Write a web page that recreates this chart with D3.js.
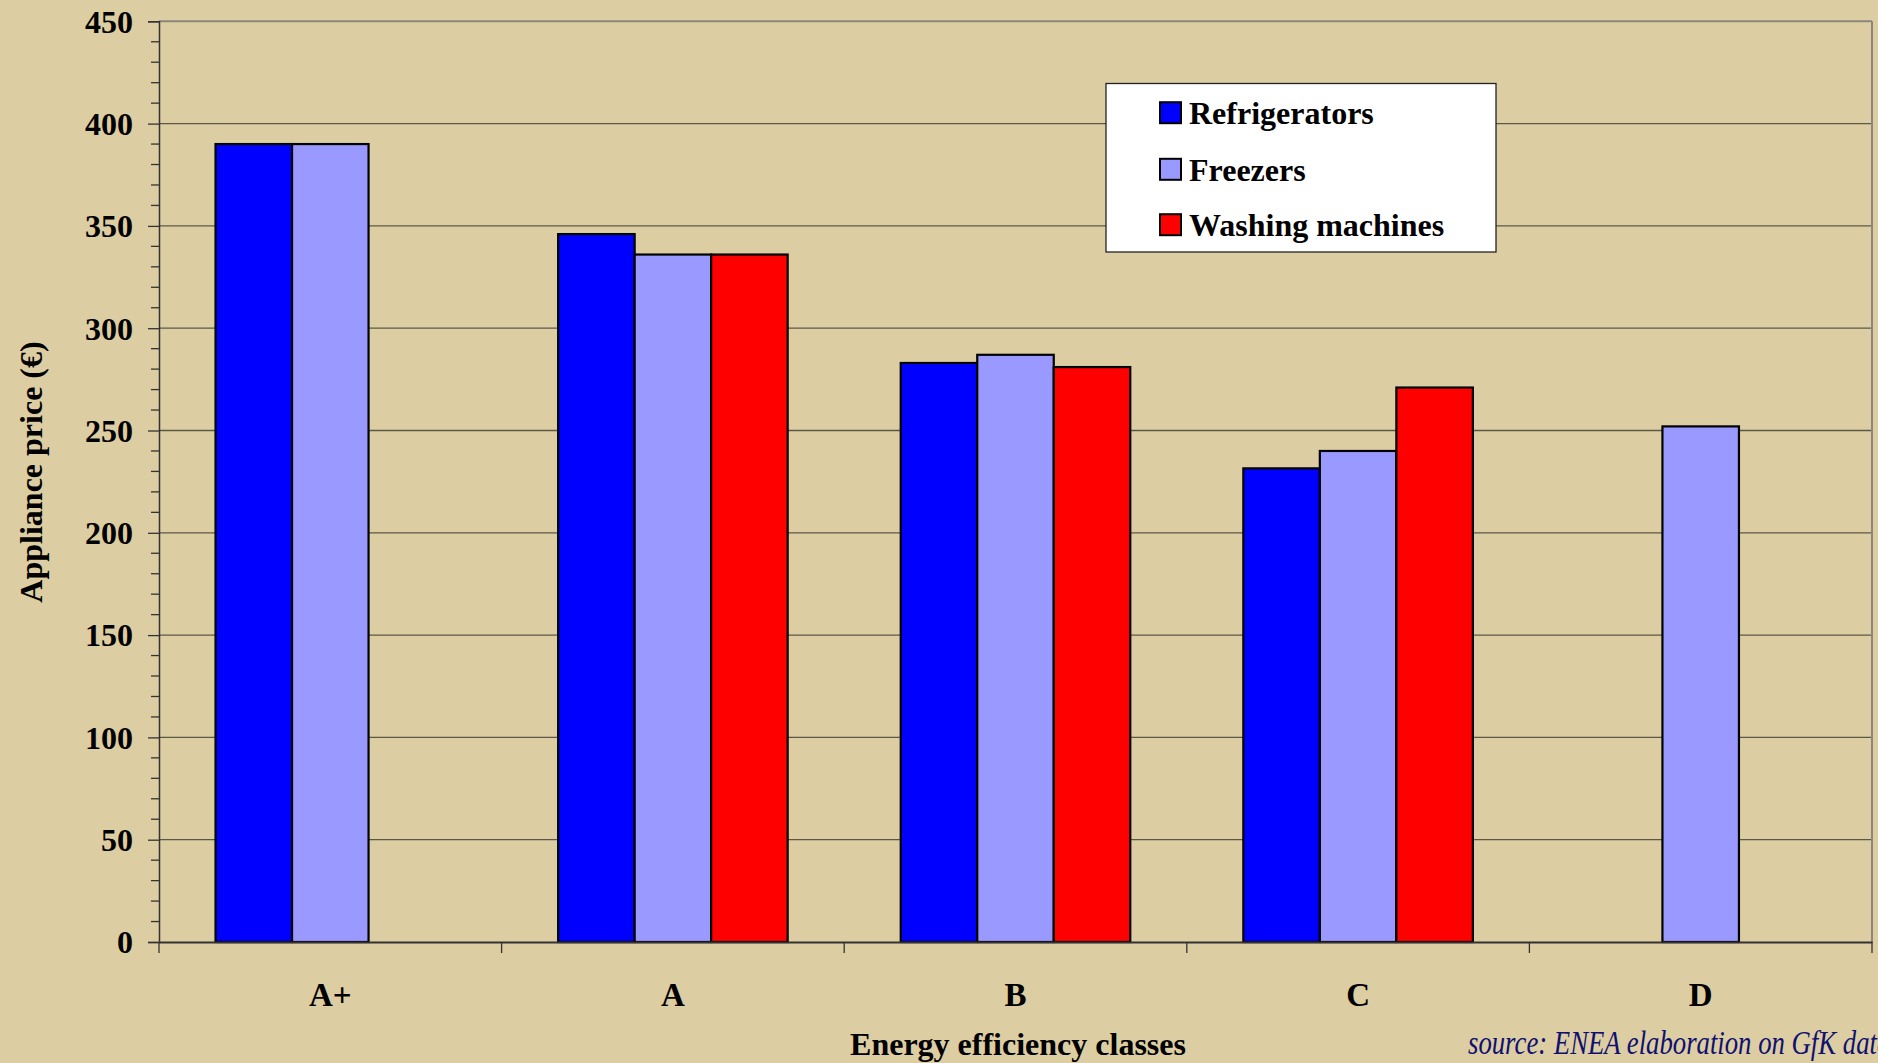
<!DOCTYPE html>
<html>
<head>
<meta charset="utf-8">
<script src="https://cdn.jsdelivr.net/npm/d3@7"></script>
<style>
html,body{margin:0;padding:0;background:#DCCDA2;overflow:hidden;}
svg{display:block;}
text{font-family:"Liberation Serif","Times New Roman",serif;}
</style>
</head>
<body>
<svg id="chart" width="1878" height="1063"></svg>
<script>
const categories = ["A+", "A", "B", "C", "D"];
const seriesNames = ["Refrigerators", "Freezers", "Washing machines"];
const refrigerators = [390, 346, 283, 231.5, null];
const freezers = [390, 336, 287, 240, 252];
const washingMachines = [null, 336, 281, 271, null];
const yTicks = [0, 50, 100, 150, 200, 250, 300, 350, 400, 450];
const colors = ["#0000FF", "#9999FF", "#FF0000"];

const seriesValues = [refrigerators, freezers, washingMachines];
const W = 1878, H = 1063;
const m = {left: 159, right: 1872, top: 21.3, bottom: 942};
const svg = d3.select("#chart");

const x = d3.scaleBand().domain(categories).range([m.left, m.right]).padding(0);
const xs = d3.scaleBand().domain(seriesNames).range([0, x.bandwidth()]).paddingInner(0).paddingOuter(0.739);
const y = d3.scaleLinear().domain([0, 450]).range([m.bottom, m.top]);

// gridlines
svg.append("g").selectAll("line").data(yTicks.filter(d => d > 0 && d < 450)).join("line")
  .attr("x1", m.left).attr("x2", m.right)
  .attr("y1", d => y(d)).attr("y2", d => y(d))
  .attr("stroke", "#5c5848").attr("stroke-width", 1.3);

// top and right border
svg.append("line").attr("x1", m.left).attr("x2", m.right).attr("y1", y(450)).attr("y2", y(450))
  .attr("stroke", "#8a877c").attr("stroke-width", 2);
svg.append("line").attr("x1", m.right).attr("x2", m.right).attr("y1", y(450)).attr("y2", m.bottom)
  .attr("stroke", "#8a877c").attr("stroke-width", 2);

// bars
const data = [];
categories.forEach((c, i) => seriesNames.forEach((s, j) => {
  if (seriesValues[j][i] != null) data.push({c, s, j, v: seriesValues[j][i]});
}));
svg.append("g").selectAll("rect").data(data).join("rect")
  .attr("x", d => x(d.c) + xs(d.s))
  .attr("width", xs.bandwidth())
  .attr("y", d => y(d.v))
  .attr("height", d => y(0) - y(d.v))
  .attr("fill", d => colors[d.j])
  .attr("stroke", "#000").attr("stroke-width", 2.2);

// y axis
const yAxis = svg.append("g").attr("transform", `translate(${m.left},0)`)
  .call(d3.axisLeft(y).tickValues(yTicks).tickSize(11).tickPadding(15).tickFormat(d3.format("d")));
yAxis.select(".domain").attr("stroke", "#333").attr("stroke-width", 1.5);
yAxis.selectAll(".tick line").attr("stroke", "#333").attr("stroke-width", 1.3);
yAxis.selectAll(".tick text").attr("font-family", "Liberation Serif, serif").attr("font-size", 32)
  .attr("font-weight", "bold").attr("fill", "#000").attr("dy", "0.34em");
// minor ticks
const minor = d3.range(0, 451, 10).filter(d => d % 50 !== 0);
svg.append("g").selectAll("line").data(minor).join("line")
  .attr("x1", m.left - 8).attr("x2", m.left)
  .attr("y1", d => y(d)).attr("y2", d => y(d))
  .attr("stroke", "#333").attr("stroke-width", 1.3);

// x axis
const xAxis = svg.append("g").attr("transform", `translate(0,${m.bottom})`)
  .call(d3.axisBottom(x).tickSize(0).tickPadding(0));
xAxis.select(".domain").attr("stroke", "#333").attr("stroke-width", 2);
xAxis.selectAll(".tick text").attr("font-family", "Liberation Serif, serif").attr("font-size", 33)
  .attr("font-weight", "bold").attr("fill", "#000").attr("y", 64).attr("dy", 0);
const boundaries = categories.map(c => x(c)).concat([m.right]);
svg.append("g").selectAll("line").data(boundaries).join("line")
  .attr("x1", d => d).attr("x2", d => d)
  .attr("y1", m.bottom).attr("y2", m.bottom + 11)
  .attr("stroke", "#333").attr("stroke-width", 1.3);

// axis titles
svg.append("text").attr("x", 1018).attr("y", 1055).attr("text-anchor", "middle")
  .attr("font-size", 32).attr("font-weight", "bold").text("Energy efficiency classes");
svg.append("text").attr("transform", "translate(42,472) rotate(-90)").attr("text-anchor", "middle")
  .attr("font-size", 32).attr("font-weight", "bold").text("Appliance price (€)");

// source
svg.append("text").attr("transform", "translate(1468,1054) scale(0.81,1)")
  .attr("font-size", 33).attr("font-style", "italic").attr("fill", "#101070")
  .text("source: ENEA elaboration on GfK data");

// legend
const lg = svg.append("g");
lg.append("rect").attr("x", 1106).attr("y", 83.5).attr("width", 390).attr("height", 168.5)
  .attr("fill", "#fff").attr("stroke", "#222").attr("stroke-width", 1.3);
const rowY = [112.7, 169.3, 224.7];
seriesNames.forEach((s, i) => {
  lg.append("rect").attr("x", 1160).attr("y", rowY[i] - 10.5).attr("width", 21).attr("height", 21)
    .attr("fill", colors[i]).attr("stroke", "#000").attr("stroke-width", 2);
  lg.append("text").attr("x", 1189).attr("y", rowY[i] + 11.6).attr("font-size", 32)
    .attr("font-weight", "bold").text(s);
});
</script>
</body>
</html>
